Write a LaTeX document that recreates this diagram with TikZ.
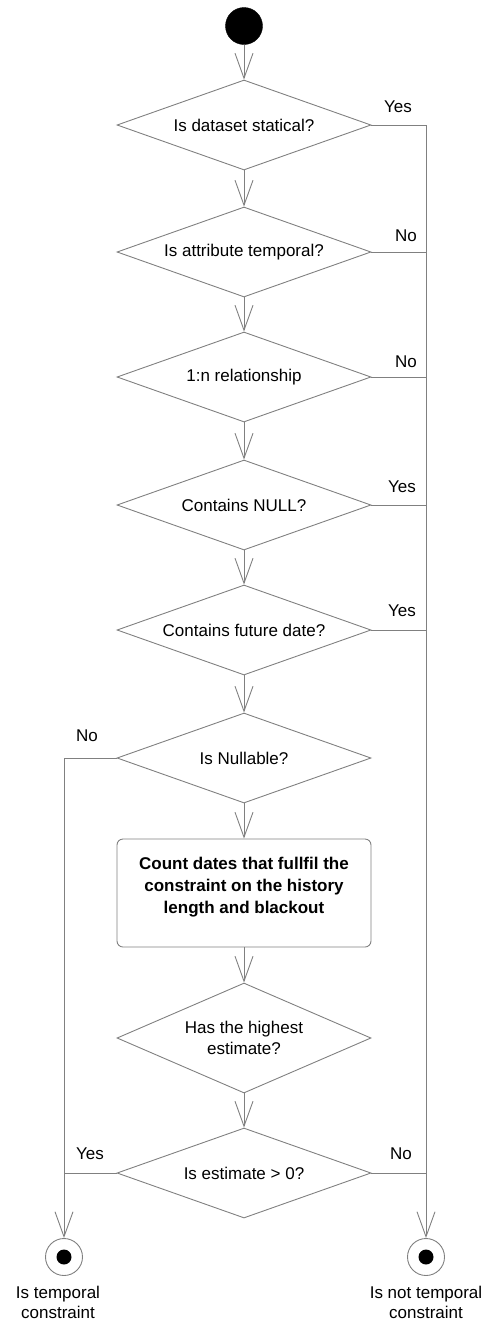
\documentclass[tikz,border=0pt]{standalone}
\usepackage{fontspec}
\setmainfont{Liberation Sans}
\usetikzlibrary{shapes.geometric,arrows.meta}
\definecolor{linegray}{RGB}{128,128,128}
\tikzset{
  txt/.style={font=\fontsize{17}{21}\selectfont, text=black, inner sep=0pt},
  decision/.style={diamond, aspect=2.8, draw=linegray, line width=0.9pt, inner sep=0pt,
    minimum width=254pt, minimum height=90pt, align=center, txt},
  actionbox/.style={rectangle, rounded corners=6pt, draw=linegray, line width=0.9pt,
    minimum width=254pt, minimum height=108pt},
  startdot/.style={circle, fill=black, draw=black, minimum size=37pt, inner sep=0pt},
  enddot/.style={circle, draw=linegray, line width=0.9pt, minimum size=37pt, inner sep=0pt},
  flow/.style={draw=linegray, line width=0.9pt},
  flowarrow/.style={flow, -{Straight Barb[length=25pt, width=18pt, line width=0.9pt]}},
  answer/.style={txt}
}
\begin{document}
\begin{tikzpicture}[x=1pt, y=-1pt]
\useasboundingbox (0,0) rectangle (494,1323);

% start and end states
\node[startdot] (start) at (244,26) {};
\node[enddot] (endL) at (64,1257) {};
\node[enddot] (endR) at (426,1257) {};
\fill (endL.center) circle[radius=7.5pt];
\fill (endR.center) circle[radius=7.5pt];

% decisions and the counting step
\node[decision] (d1) at (244,125) {Is dataset statical?};
\node[decision] (d2) at (244,252) {Is attribute temporal?};
\node[decision] (d3) at (244,377) {1:n relationship};
\node[decision] (d4) at (244,505) {Contains NULL?};
\node[decision] (d5) at (244,630) {Contains future date?};
\node[decision] (d6) at (244,758) {Is Nullable?};
\node[actionbox] (count) at (244,893) {};
\node[txt, font=\fontsize{17}{22}\selectfont\bfseries, align=center] (counttext) at (244,887)
  {Count dates that fullfil the\\constraint on the history\\length and blackout};
\node[decision, minimum height=110pt] (d7) at (244,1038) {Has the highest\\estimate?};
\node[decision] (d8) at (244,1173) {Is estimate > 0?};

% main flow
\draw[flowarrow] (start) -- (d1);
\draw[flowarrow] (d1) -- (d2);
\draw[flowarrow] (d2) -- (d3);
\draw[flowarrow] (d3) -- (d4);
\draw[flowarrow] (d4) -- (d5);
\draw[flowarrow] (d5) -- (d6);
\draw[flowarrow] (d6) -- (count);
\draw[flowarrow] (count) -- (d7);
\draw[flowarrow] (d7) -- (d8);

% exits to the final states
\draw[flowarrow] (d1.east) -| (endR.north);
\draw[flow] (d2.east) -- (d2.east -| endR);
\draw[flow] (d3.east) -- (d3.east -| endR);
\draw[flow] (d4.east) -- (d4.east -| endR);
\draw[flow] (d5.east) -- (d5.east -| endR);
\draw[flow] (d8.east) -- (d8.east -| endR);
\draw[flowarrow] (d6.west) -| (endL.north);
\draw[flow] (d8.west) -- (d8.west -| endL);

% branch labels
\node[answer] (a1) at (398,107) {Yes};
\node[answer] (a2) at (406,236) {No};
\node[answer] (a3) at (406,362) {No};
\node[answer] (a4) at (402,487) {Yes};
\node[answer] (a5) at (402,611) {Yes};
\node[answer] (a6) at (87,736) {No};
\node[answer] (a7) at (90,1154) {Yes};
\node[answer] (a8) at (401,1154) {No};

% final state captions
\node[txt, font=\fontsize{17}{20}\selectfont, align=center] (capL) at (58,1302) {Is temporal\\constraint};
\node[txt, font=\fontsize{17}{20}\selectfont, align=center] (capR) at (426,1302) {Is not temporal\\constraint};
\end{tikzpicture}
\end{document}
